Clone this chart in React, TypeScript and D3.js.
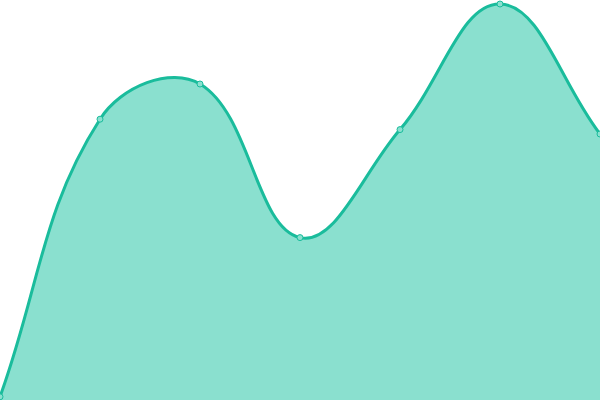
import * as React from "react"
import * as d3 from "d3"

const labels = ["A", "B", "C", "D", "E", "F", "G"]
const values = [0.8, 70.2, 79, 40.6, 67.6, 99, 66.5]

type Pt = { x: number; y: number }

// spline with distance-weighted control points (tension 0.4)
function splinePath(pts: Pt[], tension: number, w: number, h: number) {
  const clampX = (v: number) => Math.max(0, Math.min(w, v))
  const clampY = (v: number) => Math.max(0, Math.min(h, v))
  const ctrl = pts.map((cur, i) => {
    const prev = pts[i - 1] || cur
    const next = pts[i + 1] || cur
    const d01 = Math.hypot(cur.x - prev.x, cur.y - prev.y)
    const d12 = Math.hypot(next.x - cur.x, next.y - cur.y)
    let s01 = d01 / (d01 + d12)
    let s12 = d12 / (d01 + d12)
    s01 = isNaN(s01) ? 0 : s01
    s12 = isNaN(s12) ? 0 : s12
    const fa = tension * s01
    const fb = tension * s12
    return {
      px: clampX(cur.x - fa * (next.x - prev.x)),
      py: clampY(cur.y - fa * (next.y - prev.y)),
      nx: clampX(cur.x + fb * (next.x - prev.x)),
      ny: clampY(cur.y + fb * (next.y - prev.y)),
    }
  })
  const p = d3.path()
  pts.forEach((pt, i) => {
    if (i === 0) {
      p.moveTo(pt.x, pt.y)
    } else {
      const a = ctrl[i - 1]
      const b = ctrl[i]
      p.bezierCurveTo(a.nx, a.ny, b.px, b.py, pt.x, pt.y)
    }
  })
  return p.toString()
}

export default function App(): React.JSX.Element {
  const width = 600
  const height = 400

  const x = d3
    .scalePoint<string>()
    .domain(labels)
    .range([0, width])
  const y = d3.scaleLinear().domain([0, 100]).range([height, 0])

  const pts = values.map((d, i) => ({ x: x(labels[i]) as number, y: y(d) }))
  const lineD = splinePath(pts, 0.4, width, height)
  const areaD =
    lineD +
    `L${pts[pts.length - 1].x},${y(0)}L${pts[0].x},${y(0)}Z`

  return (
    <svg
      width={width}
      height={height}
      style={{ position: "fixed", left: 0, top: 0, background: "#fff" }}
    >
      <path d={areaD} fill="#8ae0cf" />
      <path d={lineD} fill="none" stroke="#1abc9c" strokeWidth={3} />
      {pts.map((p, i) => (
        <circle
          key={labels[i]}
          cx={p.x}
          cy={p.y}
          r={3}
          fill="#8ae0cf"
          stroke="#1abc9c"
          strokeWidth={1}
        />
      ))}
    </svg>
  )
}
